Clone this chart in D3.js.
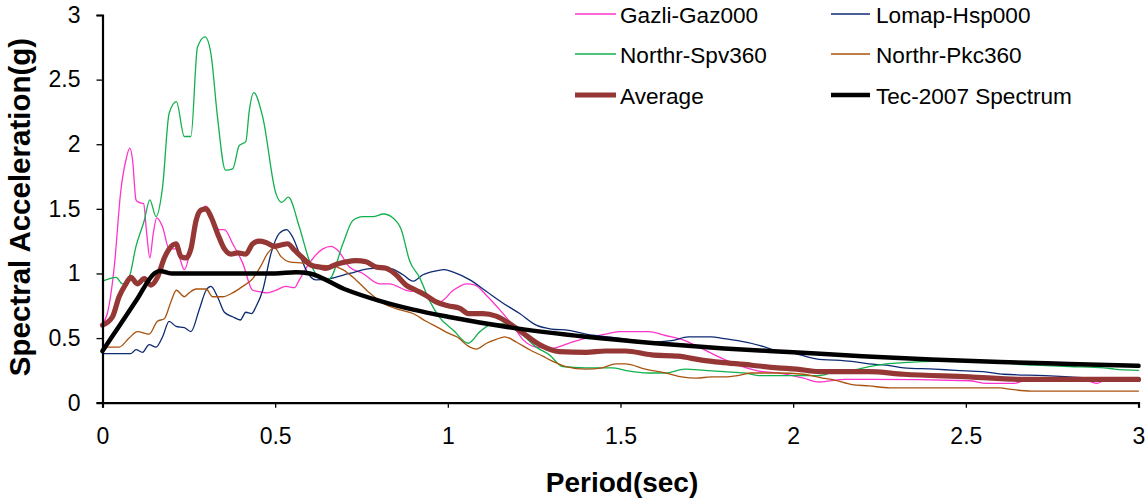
<!DOCTYPE html>
<html lang="en">
<head>
    <meta charset="UTF-8">
    <title>Spectral Acceleration</title>
    <script src="https://d3js.org/d3.v7.min.js"></script>
    <style>
        body {
            margin: 0;
            padding: 0;
            background: #fff;
            font-family: Arial, "Liberation Sans", sans-serif;
        }
        .axis path, .axis line {
            stroke: #000;
        }
        .axis text {
            font-family: Arial, "Liberation Sans", sans-serif;
            font-size: 23px;
            fill: #000;
        }
        .series {
            fill: none;
            stroke-linejoin: round;
            stroke-linecap: round;
        }
        .legend text {
            font-size: 22.6px;
            fill: #000;
        }
    </style>
</head>
<body>
    <div id="chart"></div>

    <script>
        // 讀圖得到的資料 [period, Sa]
        const gazli = [[0,0.61],[0.014,0.69],[0.034,1.05],[0.053,1.64],[0.068,1.88],[0.079,1.97],[0.087,1.88],[0.097,1.57],[0.106,1.55],[0.119,1.54],[0.128,1.31],[0.137,1.12],[0.147,1.31],[0.157,1.43],[0.174,1.36],[0.193,1.19],[0.213,1.19],[0.237,1.03],[0.261,1.26],[0.280,1.46],[0.300,1.52],[0.319,1.41],[0.338,1.34],[0.353,1.34],[0.377,1.23],[0.406,1.08],[0.435,0.87],[0.454,0.86],[0.478,0.85],[0.502,0.87],[0.531,0.90],[0.556,0.89],[0.570,0.95],[0.599,1.08],[0.638,1.19],[0.662,1.21],[0.681,1.18],[0.715,1.05],[0.754,1.00],[0.802,0.92],[0.831,0.92],[0.879,0.87],[0.928,0.85],[0.976,0.78],[1.016,0.87],[1.055,0.92],[1.079,0.91],[1.112,0.83],[1.15,0.72],[1.19,0.59],[1.217,0.49],[1.256,0.43],[1.30,0.42],[1.35,0.46],[1.40,0.50],[1.457,0.53],[1.495,0.55],[1.58,0.55],[1.63,0.52],[1.677,0.49],[1.735,0.42],[1.78,0.36],[1.84,0.29],[1.90,0.245],[1.955,0.23],[2.03,0.19],[2.075,0.16],[2.15,0.18],[2.22,0.18],[2.51,0.17],[2.56,0.15],[2.64,0.15],[2.67,0.17],[2.85,0.17],[2.88,0.15],[2.90,0.17],[3.0,0.175]];

        const lomap = [[0,0.38],[0.082,0.38],[0.097,0.41],[0.116,0.39],[0.135,0.45],[0.155,0.43],[0.174,0.51],[0.193,0.63],[0.213,0.59],[0.237,0.58],[0.256,0.55],[0.280,0.72],[0.300,0.87],[0.314,0.90],[0.333,0.82],[0.353,0.70],[0.377,0.665],[0.399,0.64],[0.415,0.70],[0.432,0.69],[0.444,0.74],[0.464,0.87],[0.488,1.155],[0.512,1.31],[0.533,1.34],[0.551,1.28],[0.570,1.155],[0.589,1.03],[0.618,0.95],[0.657,0.96],[0.715,1.00],[0.783,1.04],[0.831,1.04],[0.870,0.99],[0.899,0.94],[0.928,0.99],[0.966,1.02],[0.990,1.03],[1.016,1.01],[1.064,0.95],[1.112,0.86],[1.16,0.77],[1.208,0.69],[1.256,0.60],[1.30,0.57],[1.35,0.56],[1.40,0.53],[1.495,0.50],[1.59,0.47],[1.648,0.48],[1.696,0.51],[1.763,0.51],[1.80,0.495],[1.84,0.48],[1.907,0.44],[1.955,0.40],[1.99,0.39],[2.075,0.335],[2.12,0.33],[2.17,0.32],[2.22,0.30],[2.27,0.29],[2.32,0.27],[2.41,0.26],[2.47,0.25],[2.55,0.24],[2.61,0.22],[2.73,0.21],[2.80,0.20],[2.87,0.19],[3.0,0.19]];

        const spv = [[0,0.94],[0.039,0.97],[0.058,0.92],[0.077,0.97],[0.097,1.21],[0.121,1.41],[0.137,1.57],[0.155,1.44],[0.174,1.67],[0.193,2.24],[0.214,2.33],[0.237,2.06],[0.256,2.06],[0.275,2.75],[0.297,2.83],[0.314,2.70],[0.333,2.21],[0.356,1.80],[0.377,1.81],[0.396,1.99],[0.415,2.02],[0.425,2.26],[0.438,2.40],[0.464,2.21],[0.502,1.62],[0.519,1.55],[0.538,1.59],[0.570,1.36],[0.599,1.10],[0.628,0.97],[0.657,0.96],[0.696,1.23],[0.725,1.41],[0.754,1.44],[0.783,1.44],[0.814,1.46],[0.841,1.43],[0.865,1.34],[0.889,1.10],[0.918,0.97],[0.947,0.79],[0.976,0.66],[1.016,0.56],[1.059,0.46],[1.093,0.55],[1.131,0.61],[1.17,0.61],[1.21,0.54],[1.256,0.43],[1.294,0.37],[1.332,0.28],[1.40,0.27],[1.476,0.27],[1.514,0.25],[1.58,0.23],[1.63,0.23],[1.687,0.26],[1.744,0.25],[1.80,0.24],[1.86,0.23],[1.90,0.21],[1.955,0.21],[2.075,0.21],[2.12,0.24],[2.17,0.25],[2.22,0.28],[2.27,0.30],[2.32,0.31],[2.41,0.32],[2.51,0.32],[2.70,0.29],[2.80,0.28],[2.90,0.27],[2.93,0.26],[3.0,0.25]];

        const pkc = [[0,0.43],[0.048,0.43],[0.077,0.50],[0.101,0.55],[0.135,0.53],[0.159,0.63],[0.179,0.65],[0.198,0.78],[0.214,0.87],[0.237,0.82],[0.251,0.85],[0.271,0.88],[0.300,0.88],[0.319,0.82],[0.348,0.82],[0.377,0.85],[0.406,0.90],[0.435,0.96],[0.459,1.06],[0.478,1.155],[0.498,1.20],[0.517,1.13],[0.541,1.09],[0.580,1.08],[0.618,1.065],[0.657,1.06],[0.696,1.03],[0.734,0.95],[0.773,0.85],[0.812,0.77],[0.86,0.72],[0.899,0.69],[0.937,0.63],[0.976,0.575],[1.0,0.54],[1.026,0.51],[1.064,0.43],[1.083,0.415],[1.112,0.46],[1.14,0.49],[1.165,0.51],[1.198,0.47],[1.237,0.41],[1.275,0.36],[1.304,0.32],[1.342,0.28],[1.40,0.26],[1.447,0.27],[1.486,0.30],[1.514,0.30],[1.572,0.26],[1.63,0.23],[1.677,0.20],[1.72,0.19],[1.763,0.20],[1.80,0.20],[1.84,0.21],[1.88,0.23],[1.955,0.23],[2.03,0.22],[2.085,0.19],[2.12,0.175],[2.17,0.14],[2.22,0.13],[2.28,0.115],[2.60,0.115],[2.625,0.105],[2.69,0.09],[3.0,0.09]];

        const average = [[0,0.60],[0.029,0.665],[0.048,0.82],[0.068,0.92],[0.082,0.97],[0.101,0.92],[0.121,0.96],[0.14,0.91],[0.159,0.97],[0.179,1.12],[0.193,1.19],[0.213,1.23],[0.227,1.13],[0.242,1.12],[0.256,1.19],[0.271,1.41],[0.285,1.49],[0.300,1.50],[0.314,1.44],[0.333,1.31],[0.353,1.19],[0.372,1.15],[0.391,1.16],[0.415,1.15],[0.435,1.23],[0.454,1.25],[0.473,1.24],[0.498,1.21],[0.517,1.22],[0.536,1.23],[0.556,1.18],[0.580,1.12],[0.604,1.065],[0.628,1.05],[0.647,1.04],[0.676,1.07],[0.705,1.09],[0.734,1.10],[0.763,1.09],[0.792,1.05],[0.821,1.04],[0.85,0.99],[0.879,0.91],[0.908,0.87],[0.937,0.83],[0.966,0.78],[1.0,0.75],[1.035,0.73],[1.059,0.69],[1.102,0.69],[1.14,0.67],[1.18,0.61],[1.217,0.54],[1.265,0.45],[1.323,0.395],[1.40,0.39],[1.457,0.40],[1.514,0.40],[1.59,0.37],[1.667,0.36],[1.735,0.33],[1.80,0.31],[1.88,0.29],[1.955,0.27],[2.01,0.26],[2.075,0.24],[2.22,0.24],[2.32,0.22],[2.51,0.20],[2.66,0.18],[3.0,0.18]];

        const tec2007 = [[0,0.40],[0.05,0.60],[0.10,0.80],[0.15,1.0],[0.165,1.02],[0.2,1.0],[0.5,1.0],[0.56,1.01],[0.6,1.0],[0.7,0.88],[0.8,0.79],[0.9,0.72],[1.0,0.665],[1.2,0.575],[1.4,0.51],[1.6,0.46],[1.8,0.42],[2.0,0.39],[2.2,0.36],[2.4,0.335],[2.6,0.315],[2.8,0.30],[3.0,0.285]];

        const seriesNames = ["Gazli-Gaz000", "Lomap-Hsp000", "Northr-Spv360", "Northr-Pkc360", "Average", "Tec-2007 Spectrum"];
        const xTicks = [0, 0.5, 1, 1.5, 2, 2.5, 3];
        const yTicks = [0, 0.5, 1, 1.5, 2, 2.5, 3];

        // 尺寸
        const width = 1148;
        const height = 501;
        const margin = {left: 102.5, right: 10, top: 15, bottom: 98};

        const svg = d3.select("#chart")
            .append("svg")
            .attr("width", width)
            .attr("height", height);

        const x = d3.scaleLinear().domain([0, 3]).range([margin.left, 1138.5]);
        const y = d3.scaleLinear().domain([0, 3]).range([402.7, margin.top]);

        const series = [
            {name: seriesNames[0], data: gazli, color: "#ff33cc", width: 1.3},
            {name: seriesNames[1], data: lomap, color: "#0d2a72", width: 1.3},
            {name: seriesNames[2], data: spv, color: "#12b04e", width: 1.3},
            {name: seriesNames[3], data: pkc, color: "#a9530f", width: 1.3},
            {name: seriesNames[4], data: average, color: "#953735", width: 5.2},
            {name: seriesNames[5], data: tec2007, color: "#000000", width: 4.5}
        ];

        const line = d3.line()
            .x(d => x(d[0]))
            .y(d => y(d[1]))
            .curve(d3.curveMonotoneX);

        // 線條
        svg.selectAll(".series")
            .data(series)
            .enter()
            .append("path")
            .attr("class", "series")
            .attr("stroke", d => d.color)
            .attr("stroke-width", d => d.width)
            .attr("d", d => line(d.data));

        // 座標軸
        const xAxis = svg.append("g")
            .attr("class", "axis")
            .attr("transform", `translate(0,${y(0)})`)
            .call(d3.axisBottom(x).tickValues(xTicks).tickSize(5).tickPadding(20).tickFormat(d3.format("")));
        xAxis.select(".domain").attr("stroke-width", 2.2);
        xAxis.selectAll(".tick line").attr("stroke-width", 1.3);

        const yAxis = svg.append("g")
            .attr("class", "axis")
            .attr("transform", `translate(${x(0)},0)`)
            .call(d3.axisLeft(y).tickValues(yTicks).tickSize(6).tickPadding(16).tickFormat(d3.format("")));
        yAxis.select(".domain").attr("stroke-width", 2.2);
        yAxis.selectAll(".tick line").attr("stroke-width", 1.3);

        // 軸標題
        svg.append("text")
            .attr("x", 622)
            .attr("y", 492)
            .attr("text-anchor", "middle")
            .attr("font-size", "28px")
            .attr("font-weight", "bold")
            .text("Period(sec)");

        svg.append("text")
            .attr("transform", "translate(30,207) rotate(-90)")
            .attr("text-anchor", "middle")
            .attr("font-size", "29.5px")
            .attr("font-weight", "bold")
            .text("Spectral Acceleration(g)");

        // 圖例
        const legendPos = [
            {x1: 575, x2: 616, tx: 620, y: 14},
            {x1: 831, x2: 870, tx: 876, y: 14},
            {x1: 575, x2: 616, tx: 620, y: 54},
            {x1: 831, x2: 870, tx: 876, y: 54},
            {x1: 575, x2: 616, tx: 620, y: 95},
            {x1: 831, x2: 870, tx: 876, y: 95}
        ];

        const legend = svg.append("g").attr("class", "legend");
        series.forEach((s, i) => {
            const p = legendPos[i];
            legend.append("line")
                .attr("x1", p.x1).attr("x2", p.x2)
                .attr("y1", p.y).attr("y2", p.y)
                .attr("stroke", s.color)
                .attr("stroke-width", s.width);
            legend.append("text")
                .attr("x", p.tx)
                .attr("y", p.y + 9)
                .text(s.name);
        });
    </script>
</body>
</html>
